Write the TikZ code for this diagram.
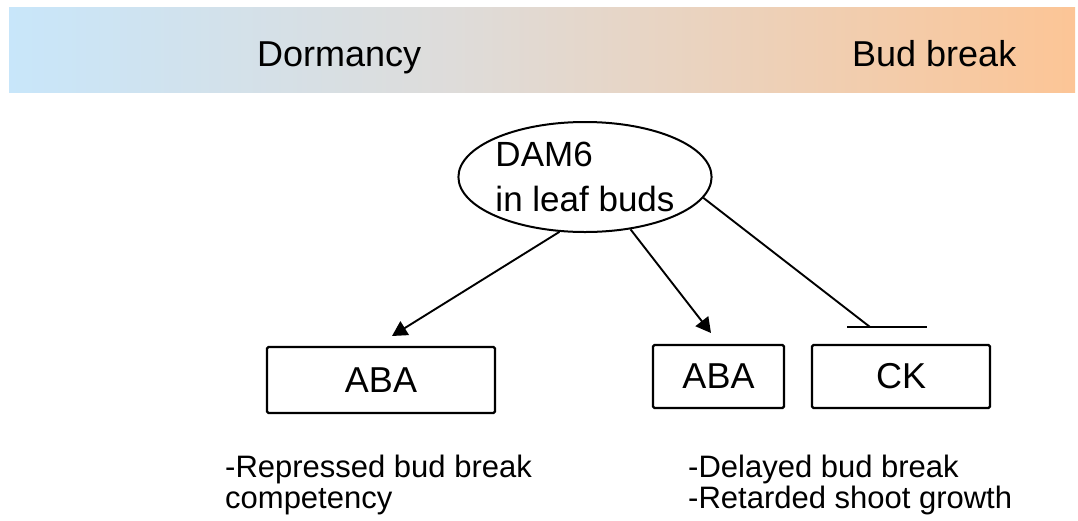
\documentclass[tikz,border=0pt]{standalone}
\usepackage{fontspec}
\setmainfont{Liberation Sans}
\usetikzlibrary{shapes.geometric,arrows.meta}
\definecolor{bandL}{HTML}{C8E6FA}
\definecolor{bandM}{HTML}{DEDCDA}
\definecolor{bandR}{HTML}{FCC596}
\tikzset{
  title/.style={anchor=base west,inner sep=0pt,font=\fontsize{36}{40}\selectfont},
  box/.style={draw,line width=2.2pt,rounded corners=1.5pt,inner sep=0pt,font=\fontsize{36}{40}\selectfont},
  note/.style={anchor=base west,inner sep=0pt,font=\fontsize{31}{31}\selectfont},
  link/.style={line width=1.9pt},
  arr/.style={link,-{Triangle[length=15pt,width=16pt]}}
}
\begin{document}
\begin{tikzpicture}[x=1pt,y=-1pt]
\useasboundingbox (0,0) rectangle (1078,520);
% gradient band
\shade[left color=bandL,right color=bandM] (9,7) rectangle (452,92);
\shade[left color=bandM,right color=bandR] (451,7) rectangle (1075,92);
\node[title] (dorm) at (257,66) {Dormancy};
\node[title] (bud) at (852,66) {Bud break};
% ellipse
\node[draw,ellipse,line width=2pt,minimum width=246pt,minimum height=110pt,inner sep=0pt,
      align=left,font=\fontsize{35}{45}\selectfont] (dam) at (585,177) {DAM6\\in leaf buds};
% boxes
\node[box,minimum width=228pt,minimum height=66pt] (aba1) at (381,380) {ABA};
\node[box,minimum width=131pt,minimum height=63pt] (aba2) at (718.5,376.5) {ABA};
\node[box,minimum width=178pt,minimum height=63pt] (ck) at (901,376.5) {CK};
% connector ends
\coordinate (t1) at (392,336);
\coordinate (t2) at (711,333);
\coordinate (t3) at (870,327);
\coordinate (barL) at (847,327);
\coordinate (barR) at (927,327);
\draw[arr] (dam.-115) -- (t1);
\draw[arr] (dam.-49) -- (t2);
\draw[link] (dam.-10) -- (t3);
\draw[link] (barL) -- (barR);
% notes
\node[note] (n1) at (225,477) {-Repressed bud break};
\node[note] (n2) at (225,508) {competency};
\node[note] (n3) at (688,477) {-Delayed bud break};
\node[note] (n4) at (688,508) {-Retarded shoot growth};
\end{tikzpicture}
\end{document}
